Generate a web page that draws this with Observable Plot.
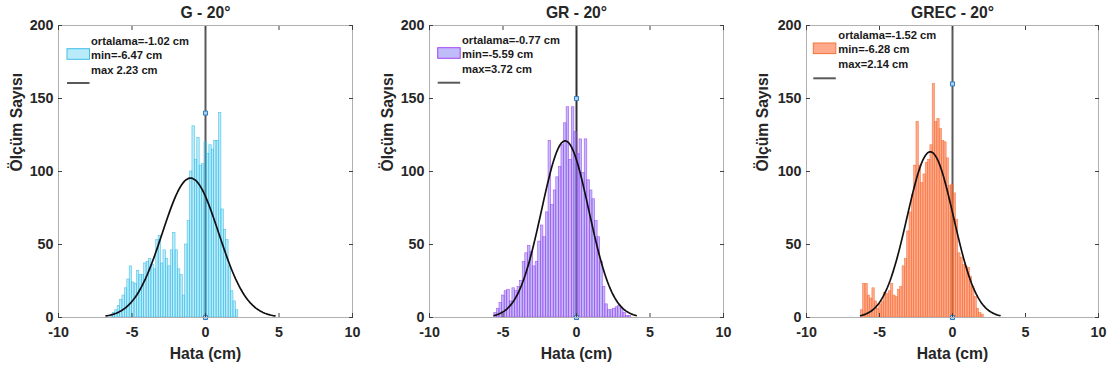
<!DOCTYPE html>
<html>
<head>
<meta charset="utf-8">
<script src="https://cdn.jsdelivr.net/npm/d3@7"></script>
<script src="https://cdn.jsdelivr.net/npm/@observablehq/plot@0.6"></script>
<style>
  body { margin: 0; background: #fff; }
  #wrap { display: flex; width: 1116px; height: 372px; }
  .panel { position: relative; width: 372px; height: 372px; }
  .panel > svg { position: absolute; left: 0; top: 0; }
  .legend { position: absolute; left: 0; top: 0; pointer-events: none; }
</style>
</head>
<body>
<div id="wrap"></div>
<script>
// ---------- data ----------
const titles = ["G - 20°", "GR - 20°", "GREC - 20°"];
const meanVals = [-1.02, -0.77, -1.52];
const minVals = [-6.47, -5.59, -6.28];
const maxVals = [2.23, 3.72, 2.14];
const legendMean = ["ortalama=-1.02 cm", "ortalama=-0.77 cm", "ortalama=-1.52 cm"];
const legendMin = ["min=-6.47 cm", "min=-5.59 cm", "min=-6.28 cm"];
const legendMax = ["max 2.23 cm", "max=3.72 cm", "max=2.14 cm"];
const xTicks = [-10, -5, 0, 5, 10];
const yTicks = [0, 50, 100, 150, 200];
const xLabel = "Hata (cm)";
const yLabel = "Ölçüm Sayısı";

// histogram counts (53 bins from min to max)
const countsG = [1,3,5,8,12,15,20,26,35,24,23,32,29,29,37,38,40,36,33,53,56,37,46,40,35,46,
  58,46,33,29,15,50,66,100,131,108,123,104,105,120,112,118,115,121,121,140,74,60,53,35,18,11,5];
const countsGR = [3,6,10,15,18,19,11,20,18,21,25,38,44,49,45,35,38,52,63,55,72,121,77,87,96,103,
  118,133,144,108,144,127,112,122,99,122,94,87,81,66,55,38,21,9,5,5,6,7,8,6,3,1,1];
const countsGREC = [5,23,23,15,13,20,11,6,9,11,17,16,18,23,15,14,19,21,35,40,59,72,84,104,134,104,
  92,98,106,108,118,160,134,136,129,121,120,109,90,91,85,67,44,41,36,35,34,28,21,14,6,3,2];
const allCounts = [countsG, countsGR, countsGREC];

// normal fit (histfit): standard deviation and peak height
const fitSigma = [1.915, 1.61, 1.59];
const fitPeak = [95.5, 121, 113.5];
// upper marker on the zero line
const markerTop = [140, 150, 160];

// ---------- styles ----------
const FONT = '"Liberation Sans", Arial, Helvetica, sans-serif';
const panelStyle = [
  {ml: 58, mr: 20, fill: "#36c6f0", fo: 0.35, edge: "#3fbfe8", zero: "#5a5a5a", ylab: -42,
   leg: {rx: 67, ry: 48.7, tx: 91, rows: [40.5, 54.5, 70], ly: 83}},
  {ml: 57, mr: 21, fill: "#6a5cf0", fo: 0.42, edge: "#a445f2", zero: "#303030", ylab: -42,
   leg: {rx: 65.7, ry: 47.7, tx: 90, rows: [40, 54, 69], ly: 82.7}},
  {ml: 62, mr: 18, fill: "#ff6530", fo: 0.55, edge: "#f4743c", zero: "#5a5a5a", ylab: -44,
   leg: {rx: 69.3, ry: 43, tx: 94.3, rows: [35, 49, 64], ly: 78.3}}
];

const wrap = document.getElementById("wrap");

allCounts.forEach((counts, i) => {
  const st = panelStyle[i];
  const n = counts.length;
  const bw = (maxVals[i] - minVals[i]) / n;
  const bins = counts.map((c, k) => ({x1: minVals[i] + k * bw, x2: minVals[i] + (k + 1) * bw, count: c}));
  const mu = meanVals[i], s = fitSigma[i];
  const fit = d3.range(100).map(k => {
    const x = mu - 3 * s + 6 * s * k / 99;
    return {x, y: fitPeak[i] * Math.exp(-0.5 * ((x - mu) / s) ** 2)};
  });
  const markers = [{x: 0, y: 0}, {x: 0, y: markerTop[i]}];
  const fmt = d => String(d);

  const chart = Plot.plot({
    width: 372, height: 372,
    marginLeft: st.ml, marginRight: st.mr, marginTop: 25, marginBottom: 55,
    x: {domain: [xTicks[0], xTicks[xTicks.length - 1]]},
    y: {domain: [yTicks[0], yTicks[yTicks.length - 1]]},
    style: {fontFamily: FONT, fontWeight: "bold", fontSize: "14.3px", color: "#262626", background: "white", overflow: "visible"},
    marks: [
      Plot.ruleX([0], {stroke: st.zero, strokeWidth: 2}),
      Plot.rectY(bins, {x1: "x1", x2: "x2", y: "count", fill: st.fill, fillOpacity: st.fo,
        stroke: st.edge, strokeWidth: 0.6, strokeOpacity: 0.9}),
      Plot.line(fit, {x: "x", y: "y", stroke: "#111", strokeWidth: 1.7}),
      Plot.dot(markers, {x: "x", y: "y", symbol: "square", r: 2.3, fill: "#a9d1f0", stroke: "#2f7abf", strokeWidth: 1}),
      Plot.frame({stroke: "#b0b0b0"}),
      Plot.axisX({anchor: "bottom", ticks: xTicks, tickSize: -4, tickFormat: () => "", stroke: "#404040", label: null}),
      Plot.axisX({anchor: "top", ticks: xTicks, tickSize: -4, tickFormat: () => "", stroke: "#404040", label: null}),
      Plot.axisY({anchor: "left", ticks: yTicks, tickSize: -4, tickFormat: () => "", stroke: "#404040", label: null}),
      Plot.axisY({anchor: "right", ticks: yTicks, tickSize: -4, tickFormat: () => "", stroke: "#404040", label: null}),
      Plot.axisX({anchor: "bottom", ticks: xTicks, tickSize: 0, tickPadding: 9, tickFormat: fmt, label: null}),
      Plot.axisY({anchor: "left", ticks: yTicks, tickSize: 0, tickPadding: 5, tickFormat: fmt, label: null}),
      Plot.text([titles[i]], {frameAnchor: "top", dy: -13, lineAnchor: "middle", fontSize: 15.7, fontWeight: "bold"}),
      Plot.text([xLabel], {frameAnchor: "bottom", dy: 36, lineAnchor: "middle", fontSize: 15.7, fontWeight: "bold"}),
      Plot.text([yLabel], {frameAnchor: "left", dx: st.ylab, rotate: -90, lineAnchor: "middle", fontSize: 15.7, fontWeight: "bold"})
    ]
  });

  const div = document.createElement("div");
  div.className = "panel";
  div.appendChild(chart);

  // legend overlay
  const L = st.leg;
  const svg = d3.create("svg").attr("class", "legend").attr("width", 372).attr("height", 372)
    .style("font-family", FONT).style("font-weight", "bold").style("font-size", "11.2px");
  svg.append("rect").attr("x", L.rx).attr("y", L.ry).attr("width", 22.5).attr("height", 10.6)
    .attr("fill", st.fill).attr("fill-opacity", st.fo).attr("stroke", st.edge).attr("stroke-width", 1);
  svg.append("line").attr("x1", L.rx).attr("x2", L.rx + 22.5).attr("y1", L.ly).attr("y2", L.ly)
    .attr("stroke", "#5a5a5a").attr("stroke-width", 2);
  [legendMean[i], legendMin[i], legendMax[i]].forEach((t, r) => {
    svg.append("text").attr("x", L.tx).attr("y", L.rows[r] + 4).attr("fill", "#1a1a1a").text(t);
  });
  div.appendChild(svg.node());
  wrap.appendChild(div);
});
</script>
</body>
</html>
